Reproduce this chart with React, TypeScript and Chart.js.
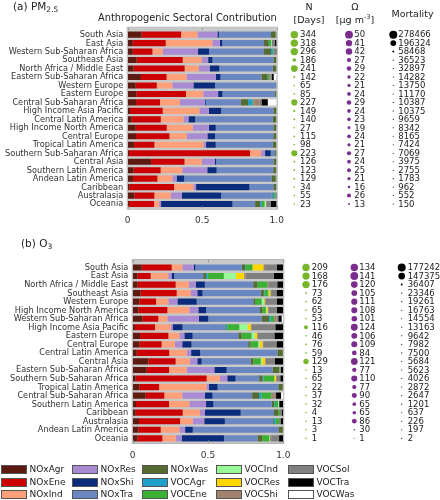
import React, { useEffect, useRef } from 'react';
import { Chart, registerables } from 'chart.js';
Chart.register(...registerables);

const FONT = '"DejaVu Sans", "Liberation Sans", sans-serif';

// ---------------- categories ----------------
const sectors = ['NOxAgr', 'NOxEne', 'NOxInd', 'NOxRes', 'NOxShi', 'NOxTra', 'NOxWas', 'VOCAgr', 'VOCEne', 'VOCInd', 'VOCRes', 'VOCShi', 'VOCSol', 'VOCTra', 'VOCWas'];
const sectorColors = ['#5c1a10', '#cc0000', '#ffa07a', '#a98bd3', '#0b2b7c', '#6a87c1', '#556b2f', '#1ea0c8', '#3cb034', '#98fb98', '#ffd700', '#a0826d', '#808080', '#000000', '#ffffff'];

// ---------------- (a) PM2.5 ----------------
const pmRegions = ['South Asia', 'East Asia', 'Western Sub-Saharan Africa', 'Southeast Asia', 'North Africa / Middle East', 'Eastern Sub-Saharan Africa', 'Western Europe', 'Eastern Europe', 'Central Sub-Saharan Africa', 'High Income Asia Pacific', 'Central Latin America', 'High Income North America', 'Central Europe', 'Tropical Latin America', 'Southern Sub-Saharan Africa', 'Central Asia', 'Southern Latin America', 'Andean Latin America', 'Caribbean', 'Australasia', 'Oceania'];
// shares per region, in sector order
const pmShares = [
  [0.094, 0.264, 0.110, 0.134, 0.010, 0.350, 0.030, 0, 0.003, 0, 0, 0, 0.003, 0.002, 0],
  [0.034, 0.221, 0.313, 0.051, 0.016, 0.280, 0.031, 0.003, 0.013, 0.005, 0, 0, 0.022, 0.011, 0],
  [0.034, 0.132, 0.069, 0.237, 0.074, 0.369, 0.047, 0.012, 0.005, 0, 0, 0.003, 0.012, 0.006, 0],
  [0.060, 0.309, 0.128, 0.043, 0.029, 0.409, 0.018, 0, 0.002, 0, 0, 0, 0.001, 0.001, 0],
  [0.040, 0.342, 0.094, 0.074, 0.065, 0.358, 0.022, 0, 0.003, 0, 0, 0, 0.001, 0.001, 0],
  [0.089, 0.172, 0.134, 0.197, 0.031, 0.275, 0.040, 0.004, 0.008, 0, 0, 0.008, 0.010, 0.012, 0.020],
  [0.054, 0.141, 0.105, 0.141, 0.145, 0.409, 0.003, 0, 0.001, 0, 0, 0, 0.001, 0, 0],
  [0.058, 0.333, 0.116, 0.100, 0.029, 0.351, 0.008, 0, 0.003, 0, 0, 0, 0.001, 0.001, 0],
  [0.056, 0.161, 0.134, 0.168, 0.005, 0.235, 0.049, 0.030, 0.005, 0, 0, 0.040, 0.015, 0.042, 0.060],
  [0.016, 0.219, 0.246, 0.063, 0.083, 0.351, 0.018, 0, 0.002, 0, 0, 0, 0.001, 0.001, 0],
  [0.027, 0.195, 0.152, 0.034, 0.045, 0.521, 0.022, 0, 0.002, 0, 0, 0, 0.001, 0.001, 0],
  [0.054, 0.208, 0.174, 0.110, 0.045, 0.387, 0.018, 0, 0.002, 0, 0, 0, 0.001, 0.001, 0],
  [0.056, 0.224, 0.116, 0.139, 0.051, 0.391, 0.018, 0, 0.003, 0, 0, 0, 0.001, 0.001, 0],
  [0.043, 0.136, 0.329, 0.018, 0.065, 0.383, 0.022, 0, 0.002, 0, 0, 0, 0.001, 0.001, 0],
  [0.009, 0.812, 0.074, 0.027, 0.038, 0.029, 0.008, 0, 0.002, 0, 0, 0, 0.001, 0, 0],
  [0.157, 0.224, 0.116, 0.089, 0.007, 0.385, 0.018, 0, 0.002, 0, 0, 0, 0.001, 0.001, 0],
  [0.040, 0.181, 0.145, 0.168, 0.063, 0.380, 0.018, 0, 0.003, 0, 0, 0, 0.001, 0.001, 0],
  [0.036, 0.163, 0.100, 0.029, 0.051, 0.586, 0.027, 0, 0.005, 0, 0, 0, 0.002, 0.001, 0],
  [0.011, 0.300, 0.130, 0.018, 0.358, 0.161, 0.018, 0, 0.002, 0, 0, 0, 0.001, 0.001, 0],
  [0.045, 0.134, 0.110, 0.074, 0.264, 0.340, 0.005, 0.012, 0.008, 0, 0, 0, 0.004, 0.004, 0],
  [0.009, 0.168, 0.034, 0.013, 0.479, 0.152, 0.034, 0.011, 0.018, 0.009, 0, 0.005, 0.027, 0.041, 0],
];
const pmDays = [344, 318, 296, 186, 241, 142, 65, 85, 227, 149, 140, 27, 115, 98, 223, 126, 123, 129, 34, 55, 23];
const pmOmega = [50, 41, 42, 27, 29, 22, 21, 24, 29, 24, 23, 19, 24, 21, 27, 24, 25, 21, 16, 26, 13];
const pmMortality = [278466, 196324, 58468, 36523, 32897, 14282, 13750, 11170, 10387, 10375, 9659, 8342, 8165, 7424, 7069, 3975, 2755, 1783, 962, 552, 150];

// ---------------- (b) O3 ----------------
const o3Regions = ['South Asia', 'East Asia', 'North Africa / Middle East', 'Southeast Asia', 'Western Europe', 'High Income North America', 'Western Sub-Saharan Africa', 'High Income Asia Pacific', 'Eastern Europe', 'Central Europe', 'Central Latin America', 'Central Asia', 'Eastern Sub-Saharan Africa', 'Southern Sub-Saharan Africa', 'Tropical Latin America', 'Central Sub-Saharan Africa', 'Southern Latin America', 'Caribbean', 'Australasia', 'Andean Latin America', 'Oceania'];
const o3Shares = [
  [0.060, 0.199, 0.071, 0.077, 0.009, 0.308, 0.022, 0.005, 0.044, 0, 0.073, 0.011, 0.078, 0.043, 0],
  [0.031, 0.088, 0.117, 0.022, 0.018, 0.192, 0.018, 0.011, 0.108, 0.080, 0.055, 0.009, 0.188, 0.063, 0],
  [0.033, 0.252, 0.088, 0.046, 0.060, 0.321, 0.027, 0, 0.066, 0, 0, 0.009, 0.058, 0.040, 0],
  [0.053, 0.239, 0.093, 0.044, 0.035, 0.387, 0.020, 0.005, 0.024, 0.005, 0.009, 0.005, 0.036, 0.045, 0],
  [0.044, 0.111, 0.082, 0.060, 0.128, 0.376, 0.013, 0, 0.042, 0.015, 0.005, 0.005, 0.077, 0.042, 0],
  [0.038, 0.192, 0.146, 0.060, 0.051, 0.358, 0.015, 0, 0.024, 0.007, 0.007, 0.005, 0.054, 0.043, 0],
  [0.064, 0.106, 0.060, 0.210, 0.062, 0.354, 0.049, 0.011, 0.022, 0, 0, 0.018, 0.011, 0.022, 0.011],
  [0.015, 0.133, 0.104, 0.013, 0.066, 0.281, 0.005, 0.011, 0.080, 0.055, 0.022, 0.005, 0.157, 0.053, 0],
  [0.049, 0.188, 0.073, 0.033, 0.055, 0.303, 0.022, 0, 0.066, 0.022, 0.015, 0.005, 0.110, 0.059, 0],
  [0.044, 0.148, 0.088, 0.049, 0.062, 0.376, 0.015, 0, 0.051, 0.009, 0.020, 0.005, 0.088, 0.045, 0],
  [0.027, 0.215, 0.117, 0.029, 0.060, 0.513, 0.035, 0, 0.002, 0, 0, 0, 0.001, 0.001, 0],
  [0.104, 0.181, 0.095, 0.049, 0.029, 0.325, 0.018, 0, 0.049, 0.009, 0.020, 0.005, 0.060, 0.056, 0],
  [0.093, 0.148, 0.117, 0.184, 0.082, 0.305, 0.042, 0, 0.004, 0, 0, 0.005, 0.005, 0.015, 0],
  [0.020, 0.471, 0.088, 0.049, 0.055, 0.157, 0.022, 0.007, 0.071, 0, 0.011, 0.005, 0.024, 0.020, 0],
  [0.044, 0.131, 0.316, 0.015, 0.058, 0.403, 0.029, 0, 0.002, 0, 0, 0, 0.001, 0.001, 0],
  [0.086, 0.124, 0.119, 0.150, 0.051, 0.263, 0.046, 0.015, 0.066, 0, 0, 0.022, 0.010, 0.033, 0.015],
  [0.022, 0.219, 0.135, 0.111, 0.049, 0.387, 0.015, 0.005, 0.022, 0.005, 0, 0, 0.003, 0.027, 0],
  [0.020, 0.312, 0.115, 0.033, 0.237, 0.221, 0.029, 0, 0.011, 0, 0, 0, 0.011, 0.011, 0],
  [0.042, 0.272, 0.084, 0.077, 0.137, 0.320, 0.005, 0.011, 0.024, 0, 0, 0, 0.010, 0.018, 0],
  [0.038, 0.148, 0.124, 0.038, 0.051, 0.569, 0.029, 0, 0.002, 0, 0, 0, 0.001, 0, 0],
  [0.031, 0.166, 0.088, 0.040, 0.281, 0.223, 0.031, 0, 0.046, 0.005, 0, 0.009, 0.052, 0.028, 0],
];
const o3Days = [209, 168, 176, 73, 62, 65, 53, 116, 46, 76, 59, 129, 13, 65, 22, 37, 32, 4, 13, 3, 1];
const o3Omega = [134, 141, 120, 105, 111, 108, 101, 124, 106, 109, 84, 121, 77, 110, 77, 90, 65, 65, 86, 30, 1];
const o3Mortality = [177242, 147375, 36407, 23346, 19261, 16763, 14554, 13163, 9642, 7982, 7500, 5684, 5623, 4026, 2872, 2647, 1201, 637, 226, 197, 2];

const xTicks = [0, 0.5, 1];

// ---------------- marker size rules ----------------
const rDays = (q: number) => 0.8 + 2.9 / (1 + Math.exp(-(q - 0.58) / 0.06));
const rOmega = (q: number) => Math.max(0.5, 3.9 * q);
const rMort = (q: number) => Math.max(0.55, 4 * Math.pow(q, 0.9));

type Col = { cx: number; tx: number; color: string; values: number[]; radius: (q: number) => number };
type Geo = {
  height: number; left: number; right: number; top: number; bottom: number;
  extTop: number; extBottom: number; xPad: number; yPad: number;
};

function makeSidePlugin(cols: Col[], geo: Geo) {
  return {
    id: 'side',
    beforeDatasetsDraw(chart: any) {
      const { ctx, chartArea: a } = chart;
      ctx.save();
      ctx.fillStyle = '#c8c8c8';
      ctx.fillRect(a.left, a.top - geo.extTop, a.right - a.left, a.bottom - a.top + geo.extTop + geo.extBottom);
      ctx.restore();
    },
    afterDraw(chart: any) {
      const { ctx, chartArea: a } = chart;
      const xs = chart.scales.x;
      const ys = chart.scales.y;
      ctx.save();
      // frame + inward ticks
      ctx.strokeStyle = '#b4b4b4';
      ctx.lineWidth = 1;
      const t = a.top - geo.extTop;
      const b = a.bottom + geo.extBottom;
      ctx.strokeRect(a.left - 0.5, t - 0.5, a.right - a.left + 1, b - t + 1);
      ctx.strokeStyle = '#9a9a9a';
      xTicks.forEach((v) => {
        const px = Math.round(xs.getPixelForValue(v)) + 0.5;
        ctx.beginPath();
        ctx.moveTo(px, t); ctx.lineTo(px, t + 2.5);
        ctx.moveTo(px, b); ctx.lineTo(px, b - 2.5);
        ctx.stroke();
      });
      // category labels, placed on the y scale
      ctx.font = `8.2px ${FONT}`;
      ctx.fillStyle = '#333';
      ctx.textAlign = 'right';
      ctx.textBaseline = 'middle';
      (chart.data.labels as string[]).forEach((lab, i) => {
        ctx.fillText(lab, a.left - geo.yPad, ys.getPixelForValue(i) + 0.3);
      });
      // side columns
      ctx.font = `8.5px ${FONT}`;
      ctx.textAlign = 'left';
      cols.forEach((c) => {
        const mx = Math.max(...c.values);
        c.values.forEach((v, i) => {
          const py = ys.getPixelForValue(i);
          ctx.fillStyle = c.color;
          ctx.beginPath();
          ctx.arc(c.cx, py, c.radius(v / mx), 0, Math.PI * 2);
          ctx.fill();
          ctx.fillStyle = '#222';
          ctx.fillText(String(v), c.tx, py + 0.5);
        });
      });
      ctx.restore();
    },
  };
}

function Panel(props: { regions: string[]; shares: number[][]; cols: Col[]; geo: Geo; top: number }) {
  const ref = useRef<HTMLCanvasElement>(null);
  useEffect(() => {
    const { geo } = props;
    const xAxisH = 16;
    const chart = new Chart(ref.current as HTMLCanvasElement, {
      type: 'bar',
      data: {
        labels: props.regions,
        datasets: sectors.map((s, k) => ({
          label: s,
          data: props.shares.map((r) => r[k]),
          backgroundColor: sectorColors[k],
          borderWidth: 0,
          barPercentage: 1,
          categoryPercentage: 0.72,
        })),
      },
      options: {
        indexAxis: 'y',
        animation: false,
        responsive: false,
        events: [],
        layout: {
          padding: {
            left: 0,
            right: 440 - geo.right,
            top: geo.top,
            bottom: geo.height - xAxisH - geo.bottom,
          },
        },
        plugins: { legend: { display: false }, tooltip: { enabled: false }, title: { display: false } },
        scales: {
          x: {
            stacked: true,
            min: 0,
            max: 1,
            ticks: { stepSize: 0.5, padding: geo.xPad, color: '#333', font: { family: FONT, size: 9 }, maxRotation: 0, autoSkip: false },
            grid: { display: false, drawTicks: false },
            border: { display: false },
            afterFit: (s: any) => { s.height = xAxisH; },
          },
          y: {
            stacked: true,
            ticks: { display: false, autoSkip: false },
            grid: { display: false, drawTicks: false },
            border: { display: false },
            afterFit: (s: any) => { s.width = geo.left; },
          },
        },
      } as any,
      plugins: [makeSidePlugin(props.cols, geo)],
    });
    return () => chart.destroy();
  }, []);
  return (
    <canvas
      ref={ref}
      width={440}
      height={props.geo.height}
      style={{ position: 'absolute', left: 0, top: props.top, width: 440, height: props.geo.height, display: 'block' }}
    />
  );
}

const txt = (extra: React.CSSProperties): React.CSSProperties => ({
  position: 'absolute', whiteSpace: 'nowrap', fontFamily: FONT, color: '#222', ...extra,
});

export default function App() {
  const pmCols: Col[] = [
    { cx: 294.3, tx: 300, color: '#77b52b', values: pmDays, radius: rDays },
    { cx: 349, tx: 354.3, color: '#7b2d8e', values: pmOmega, radius: rOmega },
    { cx: 393.3, tx: 398.3, color: '#000', values: pmMortality, radius: rMort },
  ];
  const o3Cols: Col[] = [
    { cx: 306, tx: 311.7, color: '#77b52b', values: o3Days, radius: rDays },
    { cx: 354.3, tx: 359.3, color: '#7b2d8e', values: o3Omega, radius: rOmega },
    { cx: 401.7, tx: 407.7, color: '#000', values: o3Mortality, radius: rMort },
  ];
  const pmGeo: Geo = { height: 228, left: 127.7, right: 276.7, top: 30.4, bottom: 208.3, extTop: 2.7, extBottom: 0.4, xPad: 7, yPad: 4.4 };
  const o3Top = 232;
  const o3Geo: Geo = { height: 240, left: 132.7, right: 283.3, top: 263.2 - o3Top, bottom: 442.6 - o3Top, extTop: 3.2, extBottom: 0.4, xPad: 7.5, yPad: 4.4 };

  const legendCols = [1, 72, 142, 216, 288];
  const legendRows = [465, 477.5, 489.5];

  return (
    <div style={{ position: 'absolute', left: 0, top: 0, width: 440, height: 500, background: '#fff', overflow: 'hidden' }}>
      <Panel regions={pmRegions} shares={pmShares} cols={pmCols} geo={pmGeo} top={0} />
      <Panel regions={o3Regions} shares={o3Shares} cols={o3Cols} geo={o3Geo} top={o3Top} />

      <div style={txt({ left: 13, top: 0, fontSize: 10.5, lineHeight: '12px' })}>
        (a) PM<sub style={{ fontSize: 7.5, verticalAlign: 'baseline', position: 'relative', top: 2 }}>2.5</sub>
      </div>
      <div style={txt({ left: 98, top: 11.5, fontSize: 9.8, lineHeight: '11px' })}>Anthropogenic Sectoral Contribution</div>
      <div style={txt({ left: 309, top: 1, fontSize: 9.5, lineHeight: '11px', transform: 'translateX(-50%)', textAlign: 'center' })}>N</div>
      <div style={txt({ left: 309, top: 13.7, fontSize: 9.5, lineHeight: '11px', transform: 'translateX(-50%)' })}>[Days]</div>
      <div style={txt({ left: 355, top: 1, fontSize: 9.5, lineHeight: '11px', transform: 'translateX(-50%)' })}>Ω</div>
      <div style={txt({ left: 355, top: 13.7, fontSize: 9.5, lineHeight: '11px', transform: 'translateX(-50%)' })}>
        [μg m<sup style={{ fontSize: 6.5, verticalAlign: 'baseline', position: 'relative', top: -4 }}>-3</sup>]
      </div>
      <div style={txt({ left: 412.5, top: 8.2, fontSize: 9.5, lineHeight: '11px', transform: 'translateX(-50%)' })}>Mortality</div>

      <div style={txt({ left: 21, top: 237, fontSize: 10.5, lineHeight: '12px' })}>
        (b) O<sub style={{ fontSize: 7.5, verticalAlign: 'baseline', position: 'relative', top: 2 }}>3</sub>
      </div>

      {sectors.map((s, k) => {
        const c = Math.floor(k / 3);
        const r = k % 3;
        return (
          <React.Fragment key={s}>
            <div
              style={{
                position: 'absolute', left: legendCols[c], top: legendRows[r], width: 26, height: 9,
                boxSizing: 'border-box', border: '1px solid #555', background: sectorColors[k],
              }}
            />
            <div style={txt({ left: legendCols[c] + 28.5, top: legendRows[r] - 1, fontSize: 9, lineHeight: '11px' })}>{s}</div>
          </React.Fragment>
        );
      })}
    </div>
  );
}
